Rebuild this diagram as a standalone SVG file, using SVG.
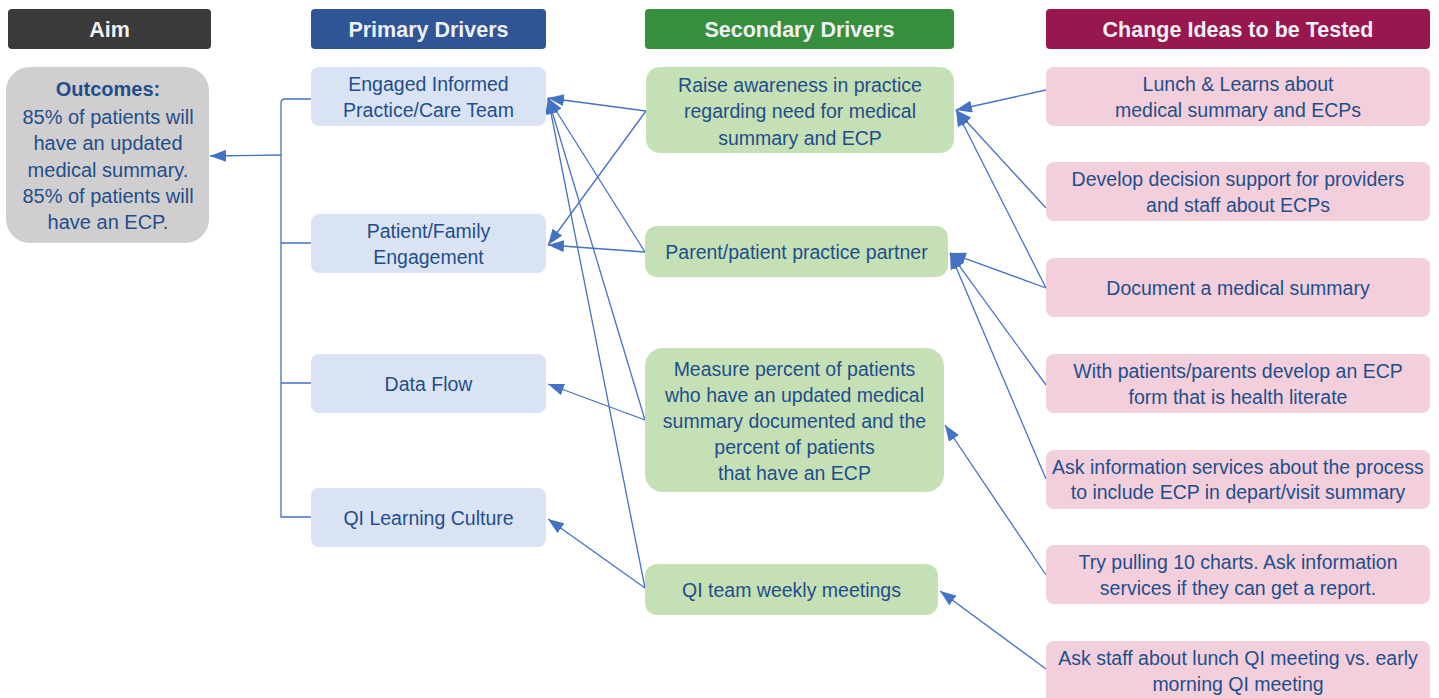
<svg xmlns="http://www.w3.org/2000/svg" width="1439" height="698" viewBox="0 0 1439 698">
<defs>
<marker id="ah" markerWidth="16" markerHeight="12" refX="16" refY="6" orient="auto" markerUnits="userSpaceOnUse">
<path d="M0,0 L16,6 L0,12 Z" fill="#4472c4"/>
</marker>
<style>
text{font-family:"Liberation Sans",Arial,sans-serif;font-size:19.5px;fill:#1f4e8c;text-anchor:middle}
.hd{font-weight:bold;font-size:21.5px;fill:#eef0f4}
.aim{font-size:20px}
.b{font-weight:bold}
.pd{fill:#dae3f3}
.sd{fill:#c5e0b4}
.ci{fill:#f2cfdb}
.cn{stroke:#4472c4;stroke-width:1.3;fill:none}
.ar{marker-end:url(#ah)}
</style>
</defs>
<rect width="1439" height="698" fill="#ffffff"/>
<g id="headers">
<g id="h-aim"><rect x="8" y="9" width="203" height="40" rx="4" fill="#3a3a3a"/><text class="hd" x="109.5" y="37">Aim</text></g>
<g id="h-primary"><rect x="311" y="9" width="235" height="40" rx="4" fill="#2f5597"/><text class="hd" x="428.5" y="37">Primary Drivers</text></g>
<g id="h-secondary"><rect x="645" y="9" width="309" height="40" rx="4" fill="#388e3f"/><text class="hd" x="799.5" y="37">Secondary Drivers</text></g>
<g id="h-change"><rect x="1046" y="9" width="384" height="40" rx="4" fill="#97174e"/><text class="hd" x="1238" y="37">Change Ideas to be Tested</text></g>
</g>
<g id="connectors">
<path class="cn" d="M311,99 L285,99 Q281,99 281,103 L281,517 L311,517"/>
<path class="cn" d="M281,243 L311,243 M281,383 L311,383"/>
<path class="cn ar" d="M281,155 L210,156"/>
<path class="cn ar" d="M646,111 L548,98"/>
<path class="cn ar" d="M646,111 L548,245"/>
<path class="cn ar" d="M645,252 L548,98"/>
<path class="cn ar" d="M645,252 L548,245"/>
<path class="cn ar" d="M645,420 L548,98"/>
<path class="cn ar" d="M645,420 L548,384"/>
<path class="cn ar" d="M645,588 L548,98"/>
<path class="cn ar" d="M645,588 L548,519"/>
<path class="cn ar" d="M1046,90 L956,110"/>
<path class="cn ar" d="M1046,208 L956,110"/>
<path class="cn ar" d="M1046,288 L956,110"/>
<path class="cn ar" d="M1046,288 L950,253"/>
<path class="cn ar" d="M1046,385 L950,253"/>
<path class="cn ar" d="M1046,479 L950,253"/>
<path class="cn ar" d="M1046,575 L945,425"/>
<path class="cn ar" d="M1046,669 L940,591"/>
</g>
<g id="aim"><rect x="6" y="67" width="203" height="176" rx="24" fill="#d0cece"/>
<text class="aim b" x="108" y="96">Outcomes:</text>
<text class="aim" x="108" y="124">85% of patients will</text>
<text class="aim" x="108" y="150">have an updated</text>
<text class="aim" x="108" y="177">medical summary.</text>
<text class="aim" x="108" y="203">85% of patients will</text>
<text class="aim" x="108" y="229">have an ECP.</text>
</g>
<g id="p1"><rect class="pd" x="311" y="67" width="235" height="59" rx="8"/><text x="428.5" y="91">Engaged Informed</text><text x="428.5" y="117">Practice/Care Team</text></g>
<g id="p2"><rect class="pd" x="311" y="214" width="235" height="59" rx="8"/><text x="428.5" y="238">Patient/Family</text><text x="428.5" y="264">Engagement</text></g>
<g id="p3"><rect class="pd" x="311" y="354" width="235" height="59" rx="8"/><text x="428.5" y="391">Data Flow</text></g>
<g id="p4"><rect class="pd" x="311" y="488" width="235" height="59" rx="8"/><text x="428.5" y="525">QI Learning Culture</text></g>
<g id="s1"><rect class="sd" x="646" y="67" width="308" height="86" rx="14"/><text x="800" y="92">Raise awareness in practice</text><text x="800" y="118">regarding need for medical</text><text x="800" y="145">summary and ECP</text></g>
<g id="s2"><rect class="sd" x="645" y="226" width="303" height="51" rx="12"/><text x="796.5" y="259">Parent/patient practice partner</text></g>
<g id="s3"><rect class="sd" x="645" y="348" width="299" height="144" rx="18"/><text x="794.5" y="376">Measure percent of patients</text><text x="794.5" y="402">who have an updated medical</text><text x="794.5" y="428">summary documented and the</text><text x="794.5" y="454">percent of patients</text><text x="794.5" y="480">that have an ECP</text></g>
<g id="s4"><rect class="sd" x="645" y="564" width="293" height="51" rx="12"/><text x="791.5" y="597">QI team weekly meetings</text></g>
<g id="c1"><rect class="ci" x="1046" y="67" width="384" height="59" rx="8"/><text x="1238" y="91">Lunch &amp; Learns about</text><text x="1238" y="117">medical summary and ECPs</text></g>
<g id="c2"><rect class="ci" x="1046" y="162" width="384" height="59" rx="8"/><text x="1238" y="186">Develop decision support for providers</text><text x="1238" y="212">and staff about ECPs</text></g>
<g id="c3"><rect class="ci" x="1046" y="258" width="384" height="59" rx="8"/><text x="1238" y="295">Document a medical summary</text></g>
<g id="c4"><rect class="ci" x="1046" y="354" width="384" height="59" rx="8"/><text x="1238" y="378">With patients/parents develop an ECP</text><text x="1238" y="404">form that is health literate</text></g>
<g id="c5"><rect class="ci" x="1046" y="450" width="384" height="59" rx="8"/><text x="1238" y="474">Ask information services about the process</text><text x="1238" y="499">to include ECP in depart/visit summary</text></g>
<g id="c6"><rect class="ci" x="1046" y="545" width="384" height="59" rx="8"/><text x="1238" y="569">Try pulling 10 charts. Ask information</text><text x="1238" y="595">services if they can get a report.</text></g>
<g id="c7"><rect class="ci" x="1046" y="641" width="384" height="66" rx="8"/><text x="1238" y="665">Ask staff about lunch QI meeting vs. early</text><text x="1238" y="691">morning QI meeting</text></g>
</svg>
